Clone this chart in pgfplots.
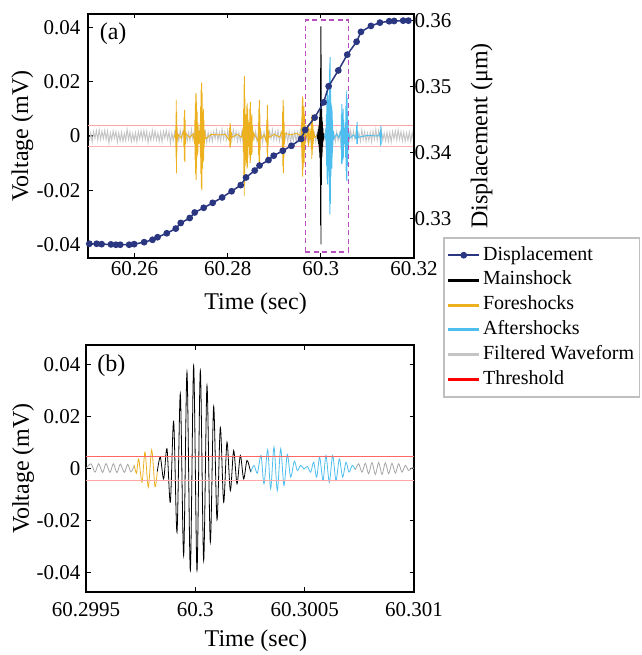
\documentclass[border=0pt]{standalone}
\usepackage{fontspec}
\setmainfont{Liberation Serif}
\usepackage{pgfplots}
\pgfplotsset{compat=1.18}
\definecolor{navy}{RGB}{42,55,128}
\definecolor{fore}{RGB}{237,177,32}
\definecolor{after}{RGB}{77,190,238}
\definecolor{filt}{RGB}{196,196,196}
\definecolor{boxc}{RGB}{183,80,190}
\pgfplotsset{
 myaxis/.style={scale only axis, clip=true,
   axis line style={line width=1.5pt, black},
   tick style={black, line width=1.2pt},
   major tick length=4.5pt,
   tick align=inside,
   scaled ticks=false,
   tick label style={font=\fontsize{21}{24}\selectfont},
   every axis label/.append style={font=\fontsize{24}{28}\selectfont},
 },
}
\begin{document}
\begin{tikzpicture}[x=1pt,y=1pt]
\path[use as bounding box] (0,0) rectangle (641,655);
% ---------------- Panel (a), left axis ----------------
\begin{axis}[myaxis, at={(88pt,397pt)}, anchor=south west, width=326pt, height=244pt,
 xmin=0, xmax=70, ymin=-0.045, ymax=0.045,
 xtick={10,30,50,70}, xticklabels={60.26,60.28,60.3,60.32},
 ytick={-0.04,-0.02,0,0.02,0.04}, yticklabels={-0.04,-0.02,0,0.02,0.04},
 xtick pos=both, xticklabel pos=left, ytick pos=left,
 yticklabel style={xshift=-4pt},
 xlabel={Time (sec)}, ylabel={Voltage (mV)},
 every axis x label/.style={at={(axis description cs:0.514,-0.1885)},anchor=center},
 every axis y label/.style={at={(axis description cs:-0.2009,0.5)},rotate=90,anchor=center},
]
% filtered waveform (noise band)
\addplot[filt, line width=0.9pt] coordinates {
(0.3,-0.0019)(0.6,0.0011)(0.9,-0.0022)(1.2,0.0016)(1.5,-0.0009)(1.8,0.0020)(2.1,-0.0015)(2.4,0.0024)(2.7,-0.0012)
(3,0.0017)(3.3,-0.0010)(3.6,0.0021)(3.9,-0.0013)(4.2,0.0018)(4.5,-0.0026)(4.8,0.0011)(5.1,-0.0015)(5.4,0.0019)(5.7,-0.0008)
(6,0.0016)(6.3,-0.0023)(6.6,0.0012)(6.9,-0.0018)(7.2,0.0014)(7.5,-0.0020)(7.8,0.0010)(8.1,-0.0017)(8.4,0.0025)(8.7,-0.0013)
(9,0.0015)(9.3,-0.0021)(9.6,0.0009)(9.9,-0.0018)(10.2,0.0012)(10.5,-0.0022)(10.8,0.0016)(11.1,-0.0011)(11.4,0.0019)(11.7,-0.0014)
(12,0.0020)(12.3,-0.0013)(12.6,0.0017)(12.9,-0.0024)(13.2,0.0010)(13.5,-0.0016)(13.8,0.0021)(14.1,-0.0012)(14.4,0.0018)(14.7,-0.0015)
(15,0.0011)(15.3,-0.0019)(15.6,0.0014)(15.9,-0.0022)(16.2,0.0017)(16.5,-0.0009)(16.8,0.0020)(17.1,-0.0013)(17.4,0.0016)(17.7,-0.0027)
(18,0.0012)(18.3,-0.0018)(18.6,0.0015)(18.9,-0.0021)(19.2,0.0010)(19.5,-0.0017)(19.8,0.0023)(20.1,-0.0014)(20.4,0.0019)(20.7,-0.0011)
(21,0.0016)(21.3,-0.0020)(21.6,0.0013)(21.9,-0.0018)(22.2,0.0025)(22.5,-0.0012)(22.8,0.0015)(23.1,-0.0022)(23.4,0.0010)(23.7,-0.0017)
(24,0.0019)(24.3,-0.0014)(24.6,0.0021)(24.9,-0.0011)(25.2,0.0016)(25.5,-0.0024)(25.8,0.0013)(26.1,-0.0018)(26.4,0.0012)(26.7,-0.0020)
(27,0.0015)(27.3,-0.0010)(27.6,0.0022)(27.9,-0.0017)(28.2,0.0013)(28.5,-0.0019)(28.8,0.0026)(29.1,-0.0011)(29.4,0.0016)(29.7,-0.0014)
(30,0.0021)(30.3,-0.0012)(30.6,0.0018)(30.9,-0.0015)(31.2,0.0023)(31.5,-0.0010)(31.8,0.0017)(32.1,-0.0020)(32.4,0.0013)(32.7,-0.0019)
(33,0.0014)(33.3,-0.0025)(33.6,0.0011)(33.9,-0.0016)(34.2,0.0022)(34.5,-0.0012)(34.8,0.0018)(35.1,-0.0015)(35.4,0.0020)(35.7,-0.0009)
(36,0.0017)(36.3,-0.0021)(36.6,0.0013)(36.9,-0.0019)(37.2,0.0011)(37.5,-0.0024)(37.8,0.0016)(38.1,-0.0014)(38.4,0.0020)(38.7,-0.0012)
(39,0.0018)(39.3,-0.0010)(39.6,0.0023)(39.9,-0.0015)(40.2,0.0017)(40.5,-0.0013)(40.8,0.0021)(41.1,-0.0019)(41.4,0.0011)(41.7,-0.0016)
(42,0.0022)(42.3,-0.0014)(42.6,0.0012)(42.9,-0.0020)(43.2,0.0016)(43.5,-0.0025)(43.8,0.0010)(44.1,-0.0018)(44.4,0.0015)(44.7,-0.0021)
(45,0.0013)(45.3,-0.0017)(45.6,0.0024)(45.9,-0.0011)(46.2,0.0019)(46.5,-0.0014)(46.8,0.0020)(47.1,-0.0016)(47.4,0.0012)(47.7,-0.0022)
(48,0.0015)(48.3,-0.0018)(48.6,0.0010)(48.9,-0.0021)(49.2,0.0013)(49.5,-0.0017)(49.8,0.0026)(50.1,-0.0012)(50.4,0.0019)(50.7,-0.0014)
(51,0.0020)(51.3,-0.0011)(51.6,0.0016)(51.9,-0.0023)(52.2,0.0014)(52.5,-0.0018)(52.8,0.0012)(53.1,-0.0021)(53.4,0.0015)(53.7,-0.0017)
(54,0.0010)(54.3,-0.0022)(54.6,0.0016)(54.9,-0.0013)(55.2,0.0019)(55.5,-0.0024)(55.8,0.0011)(56.1,-0.0017)(56.4,0.0020)(56.7,-0.0014)
(57,0.0018)(57.3,-0.0012)(57.6,0.0021)(57.9,-0.0015)(58.2,0.0010)(58.5,-0.0019)(58.8,0.0023)(59.1,-0.0013)(59.4,0.0016)(59.7,-0.0020)
(60,0.0011)(60.3,-0.0017)(60.6,0.0014)(60.9,-0.0022)(61.2,0.0018)(61.5,-0.0012)(61.8,0.0025)(62.1,-0.0015)(62.4,0.0019)(62.7,-0.0013)
(63,0.0021)(63.3,-0.0016)(63.6,0.0010)(63.9,-0.0018)(64.2,0.0014)(64.5,-0.0020)(64.8,0.0013)(65.1,-0.0022)(65.4,0.0017)(65.7,-0.0011)
(66,0.0019)(66.3,-0.0015)(66.6,0.0023)(66.9,-0.0012)(67.2,0.0016)(67.5,-0.0018)(67.8,0.0014)(68.1,-0.0020)(68.4,0.0011)(68.7,-0.0017)
(69,0.0015)(69.3,-0.0020)(69.6,0.0013)(69.9,-0.0016)(70,0.0008)};
% thresholds
\addplot[red!35, line width=0.7pt] coordinates {(0,0.004)(70,0.004)};
\addplot[red!30, line width=0.7pt] coordinates {(0,-0.004)(70,-0.004)};
% foreshocks
\addplot[fore, line width=0.9pt] coordinates {
(18.5,0.0003)(18.8,-0.0010)(18.85,0.0040)(18.9,-0.0080)(18.95,0.0133)(19.0,-0.0138)(19.05,0.0090)(19.1,-0.0060)(19.15,0.0030)(19.2,-0.0015)(19.4,0.0005)
(20.0,-0.0008)(20.55,0.0020)(20.6,-0.0040)(20.65,0.0070)(20.7,-0.0090)(20.75,0.0096)(20.8,-0.0095)(20.85,0.0060)(20.9,-0.0030)(21.0,0.0010)
(21.8,-0.0006)(22.6,0.0008)
(22.9,-0.0030)(22.95,0.0060)(23.0,-0.0090)(23.05,0.0120)(23.1,-0.0140)(23.15,0.0158)(23.2,-0.0163)(23.25,0.0150)(23.3,-0.0120)(23.35,0.0100)(23.4,-0.0080)(23.45,0.0090)(23.5,-0.0070)(23.55,0.0050)(23.6,-0.0060)(23.65,0.0040)(23.7,-0.0030)(23.8,0.0020)
(24.0,-0.0030)(24.1,0.0050)(24.15,-0.0080)(24.2,0.0110)(24.25,-0.0140)(24.3,0.0170)(24.35,-0.0190)(24.4,0.0197)(24.45,-0.0200)(24.5,0.0160)(24.55,-0.0120)(24.6,0.0090)(24.65,-0.0070)(24.7,0.0085)(24.75,-0.0095)(24.8,0.0100)(24.85,-0.0090)(24.9,0.0060)(24.95,-0.0040)(25.05,0.0020)(25.2,-0.0010)
(26.5,0.0006)(28.0,0.0004)(29.5,0.0006)
(30.3,-0.0015)(30.4,0.0030)(30.45,-0.0040)(30.5,0.0048)(30.55,-0.0044)(30.6,0.0040)(30.65,-0.0030)(30.75,0.0015)(30.9,-0.0005)
(32.0,0.0006)(33.0,-0.0004)
(33.3,0.0030)(33.35,-0.0060)(33.4,0.0100)(33.45,-0.0150)(33.5,0.0190)(33.55,-0.0222)(33.6,0.0222)(33.65,-0.0180)(33.7,0.0140)(33.75,-0.0110)(33.8,0.0080)(33.85,-0.0090)(33.9,0.0070)(33.95,-0.0060)(34.0,0.0080)(34.05,-0.0100)(34.1,0.0110)(34.15,-0.0120)(34.2,0.0120)(34.25,-0.0115)(34.3,0.0100)(34.35,-0.0080)(34.4,0.0060)(34.5,-0.0040)(34.6,0.0050)(34.7,-0.0070)(34.75,0.0100)(34.8,-0.0100)(34.85,0.0125)(34.9,-0.0090)(34.95,0.0070)(35.0,-0.0050)(35.1,0.0060)(35.15,-0.0070)(35.2,0.0080)(35.25,-0.0060)(35.3,0.0040)(35.4,-0.0020)(35.6,0.0010)
(36.55,-0.0020)(36.6,0.0050)(36.65,-0.0070)(36.7,0.0100)(36.75,-0.0100)(36.8,0.0133)(36.85,-0.0095)(36.9,0.0080)(36.95,-0.0050)(37.0,0.0030)(37.1,-0.0010)
(37.8,0.0005)
(38.3,-0.0020)(38.4,0.0060)(38.45,-0.0060)(38.5,0.0115)(38.55,-0.0077)(38.6,0.0070)(38.65,-0.0040)(38.75,0.0020)(38.9,-0.0005)
(40.0,0.0006)(41.2,-0.0004)
(41.7,0.0020)(41.75,-0.0050)(41.8,0.0090)(41.85,-0.0110)(41.9,0.0133)(41.95,-0.0137)(42.0,0.0110)(42.05,-0.0080)(42.1,0.0050)(42.15,-0.0030)(42.3,0.0010)
(43.5,0.0004)(44.8,0.0010)(45.5,0.0003)
(45.8,-0.0020)(45.85,0.0050)(45.9,-0.0080)(45.95,0.0110)(46.0,-0.0130)(46.05,0.0146)(46.1,-0.0150)(46.15,0.0140)(46.2,-0.0120)(46.25,0.0100)(46.3,-0.0090)(46.35,0.0110)(46.4,-0.0100)(46.45,0.0080)(46.5,-0.0060)(46.6,0.0040)(46.7,-0.0020)
(47.2,0.0020)(47.3,-0.0035)(47.35,0.0045)(47.4,-0.0040)(47.45,0.0030)(47.6,-0.0015)(47.9,0.0030)(47.95,-0.0050)(48.0,0.0070)(48.05,-0.0085)(48.1,0.0081)(48.15,-0.0070)(48.2,0.0060)(48.25,-0.0050)(48.3,0.0040)(48.35,-0.0030)(48.45,0.0015)(48.7,-0.0005)(49.2,0.0002)};
% mainshock
\addplot[black, line width=0.9pt] coordinates {
(49.2,0.0005)(49.3,-0.0010)(49.35,0.0015)(49.4,-0.0020)(49.45,0.0025)(49.5,-0.0030)(49.55,0.0035)(49.6,-0.0040)(49.65,0.0050)(49.7,-0.0060)(49.75,0.0070)(49.8,-0.0080)(49.85,0.0100)(49.9,-0.0150)(49.93,0.0250)(49.96,-0.0330)(50.0,0.0404)(50.03,-0.0400)(50.06,0.0300)(50.1,-0.0180)(50.15,0.0100)(50.2,-0.0080)(50.25,0.0070)(50.3,-0.0060)(50.35,0.0050)(50.4,-0.0040)(50.45,0.0030)(50.5,-0.0020)(50.6,0.0010)(50.7,-0.0005)};
% aftershocks
\addplot[after, line width=0.9pt] coordinates {
(50.7,0.0005)(51.0,-0.0010)(51.1,0.0030)(51.15,-0.0050)(51.2,0.0080)(51.25,-0.0110)(51.3,0.0140)(51.35,-0.0160)(51.4,0.0168)(51.45,-0.0178)(51.5,0.0150)(51.55,-0.0130)(51.6,0.0110)(51.65,-0.0110)(51.7,0.0130)(51.75,-0.0150)(51.8,0.0200)(51.85,-0.0240)(51.9,0.0270)(51.95,-0.0289)(52.0,0.0291)(52.05,-0.0250)(52.1,0.0200)(52.15,-0.0150)(52.2,0.0120)(52.25,-0.0100)(52.3,0.0110)(52.35,-0.0120)(52.4,0.0100)(52.45,-0.0080)(52.5,0.0060)(52.55,-0.0040)(52.65,0.0020)(52.8,-0.0010)(53.4,0.0008)(53.9,-0.0006)
(54.3,0.0020)(54.35,-0.0050)(54.4,0.0080)(54.45,-0.0104)(54.5,0.0118)(54.55,-0.0100)(54.6,0.0080)(54.65,-0.0060)(54.7,0.0070)(54.75,-0.0090)(54.8,0.0100)(54.85,-0.0080)(54.9,0.0060)(54.95,-0.0040)(55.05,0.0030)(55.15,-0.0030)(55.25,0.0050)(55.3,-0.0080)(55.35,0.0110)(55.4,-0.0130)(55.45,0.0150)(55.5,-0.0160)(55.55,0.0168)(55.6,-0.0166)(55.65,0.0140)(55.7,-0.0110)(55.75,0.0090)(55.8,-0.0070)(55.85,0.0060)(55.9,-0.0040)(56.0,0.0020)(56.2,-0.0008)
(57.0,0.0004)(57.6,-0.0010)(57.7,0.0040)(57.75,-0.0030)(57.8,0.0052)(57.85,-0.0030)(57.9,0.0020)(58.0,-0.0005)
(60.0,0.0002)(62.5,0.0000)
(62.8,0.0020)(62.85,-0.0036)(62.9,0.0038)(62.95,-0.0030)(63.0,0.0015)(63.1,-0.0005)};
% dashed zoom box
\addplot[boxc, line width=1.8pt, dash pattern=on 5pt off 3.5pt] coordinates {(46.7,-0.0427)(55.95,-0.0427)(55.95,0.0427)(46.7,0.0427)(46.7,-0.0427)};
\node[font=\fontsize{24}{28}\selectfont] at (axis description cs:0.077,0.919) {(a)};
\end{axis}
% ---------------- Panel (a), right axis ----------------
\begin{axis}[myaxis, at={(88pt,397pt)}, anchor=south west, width=326pt, height=244pt,
 xmin=0, xmax=70, ymin=0.324, ymax=0.361,
 axis y line*=right, axis x line=none,
 ytick={0.33,0.34,0.35,0.36}, yticklabels={0.33,0.34,0.35,0.36},
 yticklabel style={xshift=-3pt},
 ylabel={Displacement (μm)},
 every axis y label/.style={at={(axis description cs:1.2077,0.5)},rotate=90,anchor=center},
 legend style={at={(axis description cs:1.089,0.086)}, anchor=north west,
   draw=black!25, line width=1.5pt, font=\fontsize{20}{23}\selectfont,
   inner xsep=3pt, inner ysep=5pt, row sep=0pt, column sep=0pt,
   nodes={inner sep=2.3pt, text height=15pt, text depth=5.3pt}},
 legend cell align=left,
 legend image code/.code={\draw[mark repeat=2,mark phase=2,#1] plot coordinates {(0pt,0pt) (15.5pt,0pt) (31pt,0pt)};},
]
\addplot[navy, line width=1.5pt, mark=*, mark size=2.6pt, mark options={fill=navy}] coordinates {
(0.28,0.32616)(1.86,0.32616)(2.93,0.32610)(4.93,0.32606)(6.00,0.32601)(6.92,0.32601)(8.84,0.32601)(9.91,0.32610)
(12.06,0.32640)(13.85,0.32676)(14.93,0.32715)(16.92,0.32775)(18.84,0.32846)(19.91,0.32931)(21.84,0.33006)(22.91,0.33090)
(24.84,0.33161)(26.77,0.33236)(28.80,0.33318)(30.84,0.33412)(32.80,0.33505)(33.94,0.33621)(35.80,0.33726)(36.83,0.33802)
(38.76,0.33885)(39.87,0.33951)(41.82,0.34026)(43.68,0.34101)(45.76,0.34206)(46.64,0.34342)(48.67,0.34529)(50.60,0.34760)
(51.67,0.35005)(53.75,0.35244)(55.67,0.35484)(57.67,0.35679)(58.61,0.35829)(60.75,0.35919)(62.68,0.35969)(64.67,0.35990)
(65.74,0.35994)(67.67,0.35999)(68.80,0.35999)};
\addlegendentry{Displacement}
\addlegendimage{black, line width=3pt}
\addlegendentry{Mainshock}
\addlegendimage{fore, line width=3pt}
\addlegendentry{Foreshocks}
\addlegendimage{after, line width=3pt}
\addlegendentry{Aftershocks}
\addlegendimage{filt, line width=3pt}
\addlegendentry{Filtered Waveform}
\addlegendimage{red, line width=3pt}
\addlegendentry{Threshold}
\end{axis}
% ---------------- Panel (b) ----------------
\begin{axis}[myaxis, at={(86pt,63pt)}, anchor=south west, width=328pt, height=247pt,
 xmin=0, xmax=1500, ymin=-0.0475, ymax=0.0475,
 xtick={0,500,1000,1500}, xticklabels={60.2995,60.3,60.3005,60.301},
 ytick={-0.04,-0.02,0,0.02,0.04}, yticklabels={-0.04,-0.02,0,0.02,0.04},
 xticklabel style={yshift=-7pt},
 yticklabel style={xshift=-2pt},
 xlabel={Time (sec)}, ylabel={Voltage (mV)},
 every axis x label/.style={at={(axis description cs:0.518,-0.198)},anchor=center},
 every axis y label/.style={at={(axis description cs:-0.192,0.5)},rotate=90,anchor=center},
]
\addplot[black!35, line width=0.8pt, smooth] coordinates {
(0,0)(22.8,0.0018)(41.1,-0.0014)(57.9,0.0018)(76.2,-0.0015)(91.4,0.0019)(109.7,-0.0015)(125.0,0.0018)(141.7,-0.0016)(156.9,0.0017)(175.3,-0.0015)(190.5,0.0016)(205.7,-0.0013)(221.0,0.0012)};
\addplot[fore, line width=0.8pt, smooth] coordinates {
(221.0,0.0012)(231.0,-0.0018)(240.8,0.0037)(256.1,-0.0053)(269.8,0.0063)(285.0,-0.0072)(300.3,0.0072)(315.5,-0.0069)(326,-0.0012)};
\addplot[black, line width=0.8pt, smooth] coordinates {
(326,-0.0012)(339.8,0.0044)(355.1,-0.0040)(370.3,0.0076)(385.6,-0.0130)(400.8,0.0182)(416.1,-0.0245)(431.3,0.0287)(446.6,-0.0335)(461.8,0.0371)(477.1,-0.0392)(492.3,0.0396)(507.6,-0.0392)(522.8,0.0377)(538.1,-0.0354)(553.3,0.0319)(568.6,-0.0283)(583.8,0.0238)(599.1,-0.0197)(614.3,0.0158)(629.6,-0.0130)(644.8,0.0101)(660.1,-0.0085)(675.3,0.0069)(690.6,-0.0059)(705.8,0.0050)(721.1,-0.0040)(736.3,0.0031)(753.0,-0.0014)};
\addplot[after, line width=0.8pt, smooth] coordinates {
(753.0,-0.0014)(768.2,0.0012)(783.5,-0.0018)(800.3,0.0050)(814.0,-0.0059)(830.7,0.0072)(844.5,-0.0078)(859.7,0.0082)(874.9,-0.0085)(890.2,0.0076)(905.4,-0.0065)(920.7,0.0054)(935.9,-0.0033)(952.7,0.0028)(966.4,-0.0008)(981.6,0.0012)(996.9,-0.0002)(1012.1,0.0008)(1027.4,-0.0014)(1041.1,0.0024)(1054.8,-0.0033)(1068.5,0.0043)(1083.8,-0.0046)(1097.5,0.0050)(1112.7,-0.0053)(1128.0,0.0050)(1143.2,-0.0046)(1158.5,0.0037)(1173.7,-0.0033)(1188.9,0.0024)(1202.7,-0.0014)(1217.9,0.0012)(1231.6,-0.0005)};
\addplot[black!35, line width=0.8pt, smooth] coordinates {
(1231.6,-0.0005)(1246.9,0.0018)(1262.1,-0.0014)(1277.4,0.0020)(1292.6,-0.0020)(1307.8,0.0023)(1323.1,-0.0023)(1338.3,0.0023)(1353.6,-0.0023)(1368.8,0.0022)(1384.1,-0.0020)(1399.3,0.0020)(1414.5,-0.0018)(1429.8,0.0018)(1445.0,-0.0014)(1460.3,0.0012)(1475.5,-0.0008)(1490.8,0.0003)(1500,0.0)};
\addplot[red!60, line width=0.8pt] coordinates {(0,0.0045)(1500,0.0045)};
\addplot[red!35, line width=0.8pt] coordinates {(0,-0.0045)(1500,-0.0045)};
\node[font=\fontsize{24}{28}\selectfont] at (axis description cs:0.077,0.915) {(b)};
\end{axis}
\end{tikzpicture}
\end{document}
